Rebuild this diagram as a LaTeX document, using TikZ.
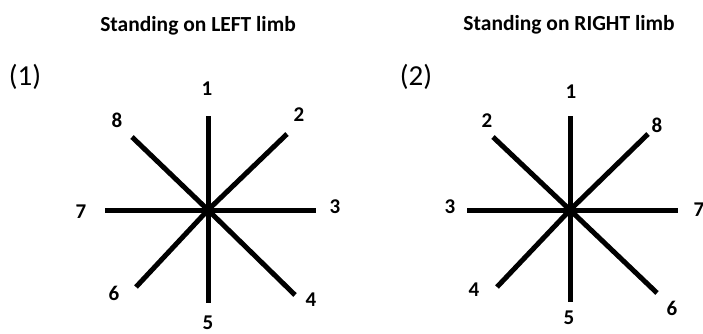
\documentclass[tikz,border=0pt]{standalone}
\usepackage{fontspec}
\setmainfont{Carlito}
\usetikzlibrary{positioning}

\begin{document}
\begin{tikzpicture}[x=1pt,y=-1pt,
    spoke/.style={line width=5pt},
    num/.style={font=\bfseries\fontsize{21}{21}\selectfont,inner sep=0pt},
    ttl/.style={font=\bfseries\fontsize{21.5}{21.5}\selectfont,inner sep=0pt},
    tag/.style={font=\fontsize{29}{29}\selectfont,inner sep=0pt}]
  \useasboundingbox[fill=white] (0,0) rectangle (703,334);
  % left limb
  \node[ttl] (tleft) at (198,26) {Standing on LEFT limb};
  \node[tag] (pleft) at (25,77) {(1)};
  \coordinate (cl) at (208,210);
  \coordinate (la) at (208,116);
  \coordinate (lb) at (287,134);
  \coordinate (lc) at (316,210);
  \coordinate (ld) at (295,295);
  \coordinate (le) at (208,303);
  \coordinate (lf) at (136,287);
  \coordinate (lg) at (105,210);
  \coordinate (lh) at (132,137);
  \foreach \e in {la,lb,lc,ld,le,lf,lg,lh}
    \draw[spoke] (cl)--(\e);
  \node[num] (l1) at (207,89) {1};
  \node[num] (l2) at (299,115) {2};
  \node[num] (l3) at (335,207) {3};
  \node[num] (l4) at (311,300) {4};
  \node[num] (l5) at (208,323) {5};
  \node[num] (l6) at (114,293) {6};
  \node[num] (l7) at (81,212) {7};
  \node[num] (l8) at (117,120) {8};
  % right limb
  \node[ttl] (tright) at (569,25) {Standing on RIGHT limb};
  \node[tag] (pright) at (416,77) {(2)};
  \coordinate (cr) at (570,210);
  \coordinate (ra) at (570,116);
  \coordinate (rb) at (648,134);
  \coordinate (rc) at (678,210);
  \coordinate (rd) at (657,293);
  \coordinate (re) at (570,302);
  \coordinate (rf) at (497,287);
  \coordinate (rg) at (467,210);
  \coordinate (rh) at (493,137);
  \foreach \e in {ra,rb,rc,rd,re,rf,rg,rh}
    \draw[spoke] (cr)--(\e);
  \node[num] (r1) at (571,92) {1};
  \node[num] (r2) at (487,121) {2};
  \node[num] (r3) at (450,207) {3};
  \node[num] (r4) at (474,290) {4};
  \node[num] (r5) at (569,318) {5};
  \node[num] (r6) at (672,308) {6};
  \node[num] (r7) at (699,210) {7};
  \node[num] (r8) at (657,125) {8};
\end{tikzpicture}
\end{document}
